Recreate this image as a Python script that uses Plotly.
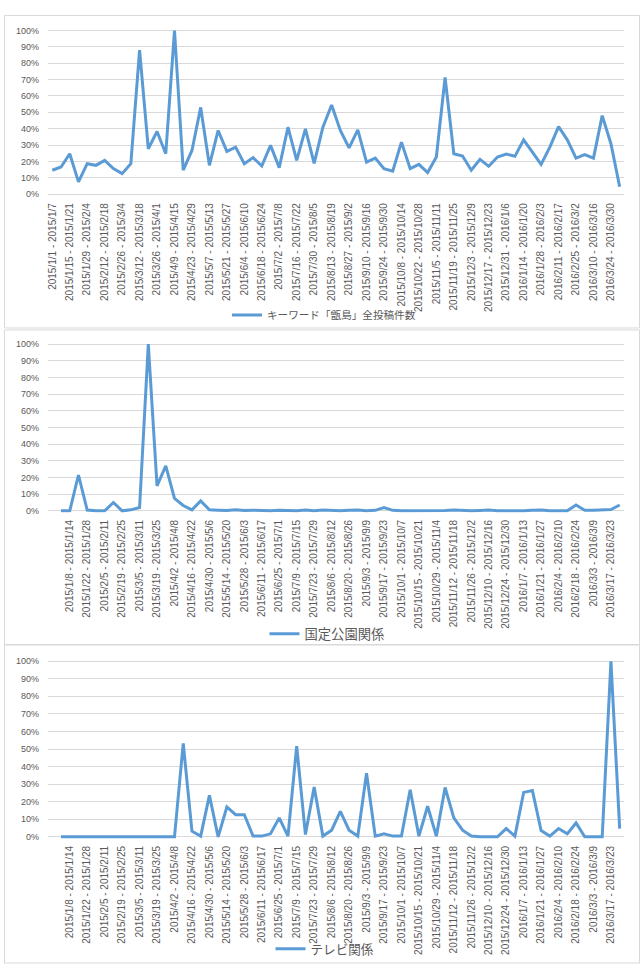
import plotly.graph_objects as go

# ---------------- data ----------------
labels_1 = [
    "2015/1/1 - 2015/1/7", "2015/1/15 - 2015/1/21", "2015/1/29 - 2015/2/4", "2015/2/12 - 2015/2/18",
    "2015/2/26 - 2015/3/4", "2015/3/12 - 2015/3/18", "2015/3/26 - 2015/4/1", "2015/4/9 - 2015/4/15",
    "2015/4/23 - 2015/4/29", "2015/5/7 - 2015/5/13", "2015/5/21 - 2015/5/27", "2015/6/4 - 2015/6/10",
    "2015/6/18 - 2015/6/24", "2015/7/2 - 2015/7/8", "2015/7/16 - 2015/7/22", "2015/7/30 - 2015/8/5",
    "2015/8/13 - 2015/8/19", "2015/8/27 - 2015/9/2", "2015/9/10 - 2015/9/16", "2015/9/24 - 2015/9/30",
    "2015/10/8 - 2015/10/14", "2015/10/22 - 2015/10/28", "2015/11/5 - 2015/11/11", "2015/11/19 - 2015/11/25",
    "2015/12/3 - 2015/12/9", "2015/12/17 - 2015/12/23", "2015/12/31 - 2016/1/6", "2016/1/14 - 2016/1/20",
    "2016/1/28 - 2016/2/3", "2016/2/11 - 2016/2/17", "2016/2/25 - 2016/3/2", "2016/3/10 - 2016/3/16",
    "2016/3/24 - 2016/3/30",
]
labels_23 = [
    "2015/1/8 - 2015/1/14", "2015/1/22 - 2015/1/28", "2015/2/5 - 2015/2/11", "2015/2/19 - 2015/2/25",
    "2015/3/5 - 2015/3/11", "2015/3/19 - 2015/3/25", "2015/4/2 - 2015/4/8", "2015/4/16 - 2015/4/22",
    "2015/4/30 - 2015/5/6", "2015/5/14 - 2015/5/20", "2015/5/28 - 2015/6/3", "2015/6/11 - 2015/6/17",
    "2015/6/25 - 2015/7/1", "2015/7/9 - 2015/7/15", "2015/7/23 - 2015/7/29", "2015/8/6 - 2015/8/12",
    "2015/8/20 - 2015/8/26", "2015/9/3 - 2015/9/9", "2015/9/17 - 2015/9/23", "2015/10/1 - 2015/10/7",
    "2015/10/15 - 2015/10/21", "2015/10/29 - 2015/11/4", "2015/11/12 - 2015/11/18", "2015/11/26 - 2015/12/2",
    "2015/12/10 - 2015/12/16", "2015/12/24 - 2015/12/30", "2016/1/7 - 2016/1/13", "2016/1/21 - 2016/1/27",
    "2016/2/4 - 2016/2/10", "2016/2/18 - 2016/2/24", "2016/3/3 - 2016/3/9", "2016/3/17 - 2016/3/23",
]

name_1 = "キーワード「甑島」全投稿件数"
name_2 = "国定公園関係"
name_3 = "テレビ関係"

# weekly share (%) - 66 weeks from 2015/1/1
values_1 = [
    14.6, 16.6, 24.7, 7.5, 18.6, 17.6, 20.6, 15.6, 12.5, 18.6,
    88, 27.7, 38.3, 24.7, 100, 14.6, 26.7, 53, 17.6, 38.9,
    26.1, 28.7, 18.6, 22.3, 17.2, 29.8, 16.2, 40.9, 20.6, 39.9,
    18.8, 40.9, 54.5, 38.9, 28.3, 39.3, 19.6, 22, 15.6, 14,
    31.8, 15.6, 18.2, 13.2, 22.7, 71.3, 24.7, 23.3, 14.6, 21.3,
    17, 22.7, 24.5, 23.1, 33.2, 25.7, 18.2, 28.7, 41.3, 33.2,
    22, 24.1, 22, 48, 30.8, 4.5,
]
# weekly share (%) - 65 weeks from 2015/1/1 (first category slot empty)
values_2 = [
    0, 0, 21.5, 0.5, 0, 0, 5, 0, 0.6, 2,
    100, 15, 27, 7.5, 3.2, 0.6, 6, 0.6, 0.4, 0.2,
    0.6, 0.2, 0.4, 0.1, 0.1, 0.4, 0.1, 0.1, 0.5, 0.1,
    0.5, 0.1, 0.1, 0.4, 0.5, 0.1, 0.3, 2, 0.3, 0,
    0, 0, 0, 0.1, 0.2, 0.5, 0.1, 0, 0.2, 0.5,
    0.1, 0, 0, 0.1, 0.3, 0.5, 0.1, 0, 0, 3.5,
    0.4, 0.3, 0.6, 0.8, 3.5,
]
values_3 = [
    0, 0, 0, 0, 0, 0, 0, 0, 0, 0,
    0, 0, 0, 0, 53.2, 3.2, 0.4, 23.6, 0, 17,
    12.6, 12.6, 0.4, 0.4, 1.7, 10.8, 0.4, 51.7, 1.3, 28.3,
    0.4, 3.8, 14.5, 3.8, 0.4, 36.2, 0.4, 1.7, 0.4, 0.4,
    26.8, 0.4, 17.4, 0.4, 28.1, 10.8, 3.8, 0.4, 0, 0,
    0, 4.7, 0.4, 25.3, 26.4, 3.6, 0.4, 4.7, 1.7, 7.9,
    0, 0, 0, 100, 4.7,
]

# ---------------- styling ----------------
W, H = 642, 971
LINE = "#5B9BD5"
GRID = "#D9D9D9"
TXT = "#595959"
TICKFONT = dict(family="Liberation Sans, Arial, sans-serif", size=10, color=TXT)
YFONT = dict(family="Liberation Sans, Arial, sans-serif", size=9, color=TXT)
CJK = "Noto Sans CJK JP, sans-serif"

def py(px):
    return 1 - px / H

def px_(x):
    return x / W

x1 = list(range(len(values_1)))
x23 = list(range(1, len(values_2) + 1))
tick1 = list(range(0, len(values_1), 2))[: len(labels_1)]
tick23 = list(range(2, len(values_2) + 1, 2))[: len(labels_23)]

fig = go.Figure()
fig.add_trace(go.Scatter(x=x1, y=[v / 100 for v in values_1], mode="lines", name=name_1,
                         line=dict(color=LINE, width=3), xaxis="x", yaxis="y", legend="legend"))
fig.add_trace(go.Scatter(x=x23, y=[v / 100 for v in values_2], mode="lines", name=name_2,
                         line=dict(color=LINE, width=3), xaxis="x2", yaxis="y2", legend="legend2"))
fig.add_trace(go.Scatter(x=x23, y=[v / 100 for v in values_3], mode="lines", name=name_3,
                         line=dict(color=LINE, width=3), xaxis="x3", yaxis="y3", legend="legend3"))

xdom = [px_(47), px_(624)]
pad = 0.012
panels = [
    # (y of 100%, y of 0%)
    (27.7, 192.3),
    (343.3, 511.0),
    (662.3, 839.0),
]
layout = dict(
    width=W, height=H, margin=dict(l=0, r=0, t=0, b=0),
    paper_bgcolor="white", plot_bgcolor="white", showlegend=True,
)
for k, (ytop, ybot) in enumerate(panels):
    sfx = "" if k == 0 else str(k + 1)
    per = ybot - ytop
    top = ytop - pad * per
    bot = ybot + pad * per
    if k == 0:
        tv, tt = tick1, labels_1
    else:
        tv, tt = tick23, labels_23
    layout["xaxis" + sfx] = dict(
        domain=xdom, anchor="y" + sfx, range=[-0.5, 65.5],
        tickmode="array", tickvals=tv, ticktext=tt, tickangle=-90,
        showgrid=False, zeroline=False, showline=False, ticks="",
        tickfont=TICKFONT, ticklabelstandoff=4, fixedrange=True,
    )
    layout["yaxis" + sfx] = dict(
        domain=[py(bot), py(top)], anchor="x" + sfx, range=[-pad, 1 + pad],
        tickmode="array", tickvals=[i / 10 for i in range(11)],
        ticktext=[f"{i * 10}%" for i in range(11)],
        showgrid=True, gridcolor=GRID, gridwidth=1, zeroline=False, showline=False,
        ticks="", tickfont=YFONT, ticklabelstandoff=8, fixedrange=True,
    )

leg_pos = [(323.5, 314, 10.6), (326.5, 635, 13.3), (324.5, 952, 12.6)]
for k, (cx, cy, fs) in enumerate(leg_pos):
    key = "legend" if k == 0 else f"legend{k + 1}"
    layout[key] = dict(
        x=px_(cx), y=py(cy), xanchor="center", yanchor="middle", orientation="h",
        font=dict(family=CJK, size=fs, color=TXT), bgcolor="rgba(0,0,0,0)",
        borderwidth=0,
    )

boxes = [(12.5, 327.0), (329.0, 645.5), (646.0, 966.0)]
shapes = []
for (t, b) in boxes:
    shapes.append(dict(type="rect", xref="paper", yref="paper",
                       x0=px_(3.5), x1=px_(639.5), y0=py(b), y1=py(t),
                       line=dict(color=GRID, width=1), fillcolor="rgba(0,0,0,0)", layer="below"))
layout["shapes"] = shapes

fig.update_layout(**layout)
fig.write_html("out.html")
